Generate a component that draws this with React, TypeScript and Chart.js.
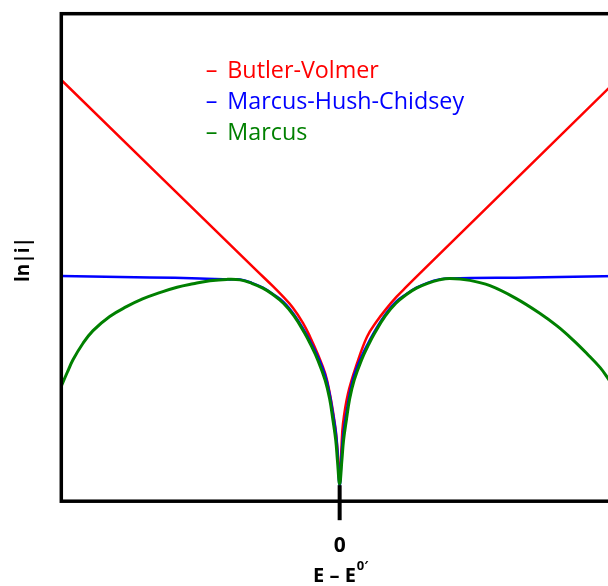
import React, { useEffect, useRef } from "react";
import { Chart, registerables } from "chart.js";

Chart.register(...registerables);

// ---- text ----
const seriesNames = ["Butler-Volmer", "Marcus-Hush-Chidsey", "Marcus"];
const seriesColors = ["#FF0000", "#0000FF", "#008000"];
const xTickValues = [0];
const xTickLabels = ["0"];
const yAxisLabel = "ln|i|";
const xAxisLabelMain = "E \u2013 E";
const xAxisLabelSup = "0\u2032";

// ---- data (E - E0' and ln|i| in arbitrary units) ----
const bvX = [-5.0, -1.49, -1.2, -1.02, -0.84, -0.66, -0.53, -0.39, -0.26, -0.18, -0.12, -0.07, -0.04, 0, 0.03, 0.06, 0.15, 0.31, 0.49, 0.66, 0.84, 1.02, 1.2, 1.5, 5.0];
const bvY = [8.64, 4.73, 4.41, 4.2, 3.97, 3.66, 3.37, 3.01, 2.62, 2.23, 1.84, 1.45, 1.08, 0.39, 1.05, 1.59, 2.21, 2.82, 3.37, 3.68, 3.95, 4.19, 4.4, 4.74, 8.66];

const mhcX = [-5.0, -3.41, -2.51, -1.97, -1.79, -1.58, -1.38, -1.2, -1.01, -0.82, -0.63, -0.52, -0.39, -0.26, -0.18, -0.12, -0.07, -0.04, 0, 0.04, 0.07, 0.12, 0.18, 0.26, 0.39, 0.52, 0.63, 0.82, 1.01, 1.2, 1.38, 1.58, 1.79, 1.98, 3.42, 5.0];
const mhcY = [4.62, 4.59, 4.57, 4.55, 4.55, 4.48, 4.38, 4.25, 4.09, 3.83, 3.49, 3.26, 2.96, 2.58, 2.2, 1.8, 1.42, 1.05, 0.31, 1.05, 1.42, 1.8, 2.2, 2.58, 2.96, 3.26, 3.49, 3.83, 4.09, 4.25, 4.38, 4.48, 4.55, 4.57, 4.59, 4.62];

const marcusX = [-5.0, -4.89, -4.79, -4.61, -4.43, -4.13, -3.83, -3.54, -3.23, -2.92, -2.63, -2.33, -2.03, -1.79, -1.58, -1.38, -1.2, -1.01, -0.82, -0.63, -0.52, -0.39, -0.26, -0.18, -0.12, -0.07, -0.04, 0, 0.04, 0.07, 0.12, 0.18, 0.26, 0.39, 0.52, 0.63, 0.82, 1.01, 1.2, 1.38, 1.58, 1.79, 1.98, 2.34, 2.7, 3.15, 3.6, 3.91, 4.19, 4.44, 4.68, 4.82, 5.0];
const marcusY = [2.36, 2.65, 2.9, 3.24, 3.5, 3.79, 3.99, 4.15, 4.28, 4.39, 4.46, 4.52, 4.55, 4.54, 4.47, 4.37, 4.24, 4.06, 3.8, 3.45, 3.21, 2.89, 2.48, 2.1, 1.66, 1.25, 0.84, 0.35, 0.84, 1.25, 1.66, 2.1, 2.48, 2.89, 3.21, 3.45, 3.8, 4.06, 4.24, 4.37, 4.47, 4.54, 4.57, 4.53, 4.42, 4.17, 3.85, 3.59, 3.31, 3.03, 2.74, 2.52, 2.21];

const xMin = -5;
const xMax = 5;
const yMin = 0;
const yMax = 10;

const toPoints = (xs: number[], ys: number[]) =>
  xs.slice(0, Math.min(xs.length, ys.length)).map((x, i) => ({ x, y: ys[i] }));

const FONT = "'Open Sans', Lato, 'Noto Sans', sans-serif";

const decorPlugin = {
  id: "decor",
  afterDatasetsDraw(chart: any) {
    const { ctx, chartArea } = chart;
    const xs = chart.scales.x;
    const { left, right, top, bottom } = chartArea;
    ctx.save();

    // frame
    ctx.strokeStyle = "#000";
    ctx.lineWidth = 3.5;
    ctx.lineJoin = "miter";
    ctx.strokeRect(left, top, right - left, bottom - top);

    // x ticks (crossing the axis) and tick labels
    xTickValues.forEach((v, i) => {
      const px = xs.getPixelForValue(v);
      ctx.beginPath();
      ctx.lineWidth = 4;
      ctx.moveTo(px, bottom - 16);
      ctx.lineTo(px, bottom + 19);
      ctx.stroke();
      ctx.fillStyle = "#000";
      ctx.font = `bold 21px ${FONT}`;
      ctx.textAlign = "center";
      ctx.textBaseline = "alphabetic";
      ctx.fillText(xTickLabels[i], px, bottom + 50.5);
    });

    // x axis title with superscript
    const cx = xs.getPixelForValue(0);
    ctx.font = `bold 20px ${FONT}`;
    const wMain = ctx.measureText(xAxisLabelMain).width;
    ctx.font = `bold 13px ${FONT}`;
    const wSup = ctx.measureText(xAxisLabelSup).width;
    const startX = cx - (wMain + wSup + 1) / 2 + 1;
    ctx.textAlign = "left";
    ctx.font = `bold 20px ${FONT}`;
    ctx.fillText(xAxisLabelMain, startX, bottom + 80.5);
    ctx.font = `bold 13px ${FONT}`;
    ctx.fillText(xAxisLabelSup, startX + wMain + 1, bottom + 69);

    // y axis title
    ctx.save();
    ctx.translate(left - 38, (top + bottom) / 2 + 2);
    ctx.rotate(-Math.PI / 2);
    ctx.font = `bold 19px ${FONT}`;
    ctx.textAlign = "center";
    ctx.textBaseline = "middle";
    ctx.fillText(yAxisLabel, 0, 0);
    ctx.restore();

    // legend
    ctx.font = `23.3px ${FONT}`;
    ctx.textAlign = "left";
    ctx.textBaseline = "alphabetic";
    seriesNames.forEach((name, i) => {
      const y = top + 64 + i * 31.3;
      ctx.fillStyle = seriesColors[i];
      ctx.fillText("\u2013", left + 144.5, y);
      ctx.fillText(name, left + 166, y);
    });

    ctx.restore();
  },
};

export default function App() {
  const canvasRef = useRef<HTMLCanvasElement | null>(null);

  useEffect(() => {
    const canvas = canvasRef.current;
    if (!canvas) return;
    const chart = new Chart(canvas, {
      type: "line",
      data: {
        datasets: [
          {
            label: seriesNames[0],
            data: toPoints(bvX, bvY),
            borderColor: seriesColors[0],
            borderWidth: 2.5,
            order: 3,
          },
          {
            label: seriesNames[1],
            data: toPoints(mhcX, mhcY),
            borderColor: seriesColors[1],
            borderWidth: 2.5,
            order: 2,
          },
          {
            label: seriesNames[2],
            data: toPoints(marcusX, marcusY),
            borderColor: seriesColors[2],
            borderWidth: 3,
            order: 1,
          },
        ],
      },
      options: {
        responsive: false,
        animation: false,
        devicePixelRatio: 1,
        layout: {
          padding: { left: 61.3, right: 22, top: 13.7, bottom: 84.8 },
        },
        elements: {
          point: { radius: 0, hoverRadius: 0 },
          line: { cubicInterpolationMode: "default", tension: 0.4, fill: false, capBezierPoints: true },
        },
        scales: {
          x: { type: "linear", min: xMin, max: xMax, display: false },
          y: { type: "linear", min: yMin, max: yMax, display: false },
        },
        plugins: {
          legend: { display: false },
          tooltip: { enabled: false },
          title: { display: false },
        },
      },
      plugins: [decorPlugin],
    });
    return () => chart.destroy();
  }, []);

  return (
    <div
      style={{
        position: "absolute",
        left: 0,
        top: 0,
        width: 608,
        height: 586,
        overflow: "hidden",
        background: "#fff",
      }}
    >
      <canvas ref={canvasRef} width={640} height={586} style={{ display: "block" }} />
    </div>
  );
}
